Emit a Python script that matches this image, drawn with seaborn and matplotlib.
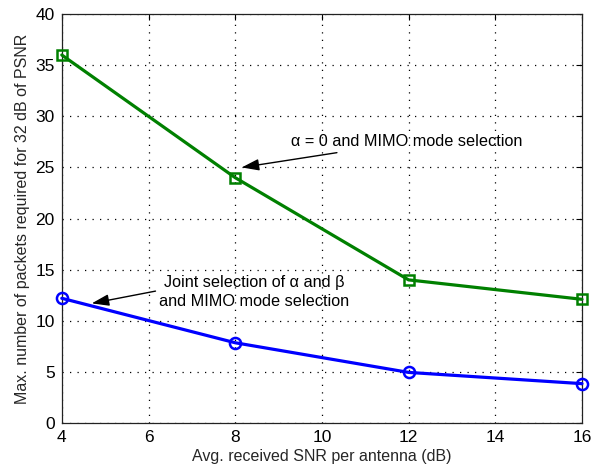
import matplotlib
matplotlib.use("Agg")
import matplotlib.pyplot as plt
import seaborn as sns
import pandas as pd

snr = [4, 8, 12, 16]
alpha0_mimo = [36, 24, 14, 12.1]
joint_sel = [12.2, 7.85, 4.95, 3.85]
xticks = [4, 6, 8, 10, 12, 14, 16]
yticks = [0, 5, 10, 15, 20, 25, 30, 35, 40]

sns.set_style("white")
plt.rcParams['font.family'] = ['Liberation Sans', 'DejaVu Sans']

fig = plt.figure(figsize=(6, 4.7), dpi=100)
ax = fig.add_axes([0.103, 0.1, 0.867, 0.870])

df_g = pd.DataFrame({"snr": snr, "val": alpha0_mimo})
df_b = pd.DataFrame({"snr": snr, "val": joint_sel})

sns.lineplot(data=df_g, x="snr", y="val", ax=ax, color=(0, 0.5, 0), lw=2.3,
             marker="s", markersize=7, markerfacecolor="none",
             markeredgecolor=(0, 0.5, 0), markeredgewidth=1.8, clip_on=False, zorder=3)
sns.lineplot(data=df_b, x="snr", y="val", ax=ax, color=(0, 0, 1), lw=2.3,
             marker="o", markersize=8, markerfacecolor="none",
             markeredgecolor=(0, 0, 1), markeredgewidth=1.8, clip_on=False, zorder=3)

ax.set_xlim(4, 16)
ax.set_ylim(0, 40)
ax.set_xticks(xticks)
ax.set_yticks(yticks)
ax.tick_params(direction="in", length=4, labelsize=12.5, colors="black", top=True, right=True, pad=5)
for s in ax.spines.values():
    s.set_color("#222222")
    s.set_linewidth(0.9)
ax.grid(True, linestyle=(0, (1, 5)), color="black", linewidth=0.9)

ax.set_xlabel("Avg. received SNR per antenna (dB)", fontsize=11.5, labelpad=3)
ax.set_ylabel("Max. number of packets required for 32 dB of PSNR", fontsize=11.5, labelpad=4)

arrowprops = dict(arrowstyle="-|>,head_length=0.9,head_width=0.3", color="black", lw=1.0,
                  shrinkA=0, shrinkB=0)
ax.annotate("α = 0 and MIMO mode selection", xy=(8.15, 25.0), xytext=(9.28, 27.5),
            ha="left", va="center", fontsize=11.7, color="black", arrowprops=arrowprops)
ax.annotate("Joint selection of α and β\nand MIMO mode selection",
            xy=(4.69, 11.7), xytext=(8.43, 12.8), ha="center", va="center",
            fontsize=11.7, color="black", linespacing=1.3,
            arrowprops=dict(arrowprops, relpos=(0, 0.55)))

fig.savefig("out.png", dpi=100)
